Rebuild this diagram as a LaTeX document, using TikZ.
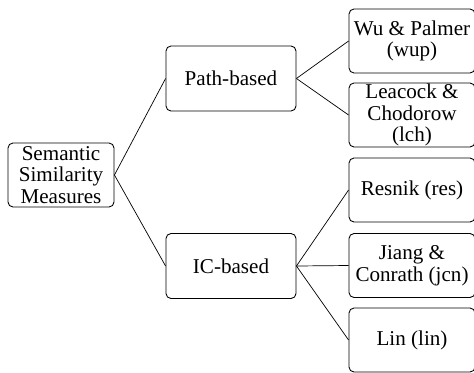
\documentclass[tikz,border=0pt]{standalone}
\usepackage{fontspec}
\setmainfont{Liberation Serif}
\usepackage{tikz}
\tikzset{box/.style={draw, rounded corners=0.1cm, align=center, inner sep=0pt,
  font=\fontsize{12}{12.4}\selectfont, line width=0.5pt},
  leaf/.style={box, minimum width=2.52cm, minimum height=1.28cm}}

\begin{document}
\begin{tikzpicture}
            \useasboundingbox (0,0) rectangle (9.48,7.44);
            \node[box, minimum width=2.12cm, minimum height=1.28cm] (sim) at (1.22,3.94) {Semantic\\Similarity\\Measures};
            \node[box, minimum width=2.6cm, minimum height=1.3cm] (path) at (4.62,5.87) {Path-based};
            \node[box, minimum width=2.6cm, minimum height=1.3cm] (ic) at (4.62,2.12) {IC-based};
            \node[leaf] (wup) at (8.24,6.62) {Wu \& Palmer\\(wup)};
            \node[leaf] (lch) at (8.24,5.14) {Leacock \&\\Chodorow\\(lch)};
            \node[leaf] (res) at (8.24,3.64) {Resnik (res)};
            \node[leaf] (jcn) at (8.24,2.13) {Jiang \&\\Conrath (jcn)};
            \node[leaf] (lin) at (8.24,0.64) {Lin (lin)};
            \draw (sim.east) -- (path.west);
            \draw (sim.east) -- (ic.west);
            \draw (path.east) -- (wup.west);
            \draw (path.east) -- (lch.west);
            \draw (ic.east) -- (res.west);
            \draw (ic.east) -- (jcn.west);
            \draw (ic.east) -- (lin.west);
        \end{tikzpicture}
\end{document}
